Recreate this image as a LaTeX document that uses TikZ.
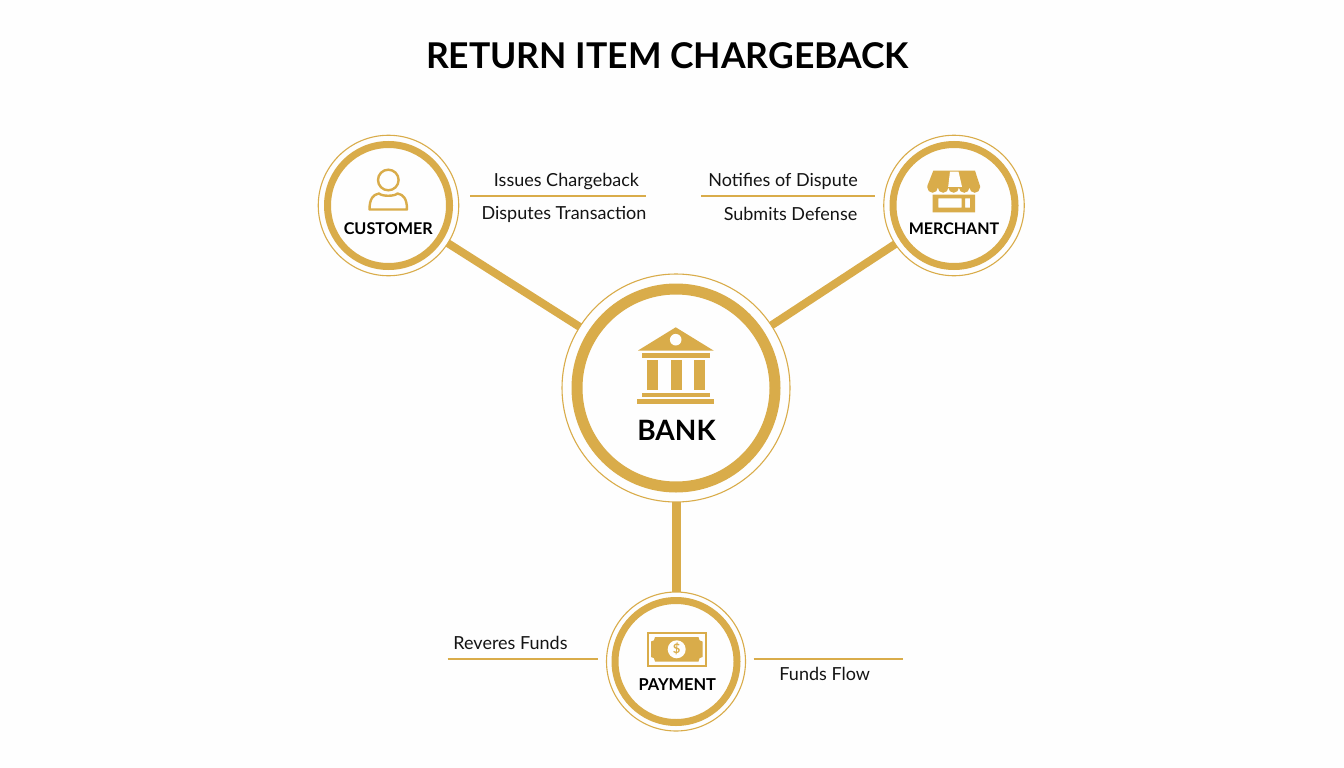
\documentclass[tikz,border=0pt]{standalone}
\usepackage{fontspec}
\setmainfont{Lato}
\definecolor{gold}{HTML}{D9AC4A}
\definecolor{ink}{HTML}{141414}
\definecolor{paper}{HTML}{FEFEFE}
\tikzset{
  hub/.style={circle,draw=gold,line width=1.1pt,inner sep=0pt,outer sep=0pt},
  ringline/.style={draw=gold},
  link/.style={draw=gold,line width=8pt},
  rulerline/.style={draw=gold,line width=1.8pt},
  lbl/.style={text=ink,inner sep=0pt,font=\fontsize{18}{20}\selectfont},
  captext/.style={text=black,inner sep=0pt,font=\fontsize{16.2}{20}\selectfont\bfseries},
  icon/.style={fill=gold,draw=none},
}
\begin{document}
\begin{tikzpicture}[x=1pt,y=-1pt]
\useasboundingbox[fill=paper] (0,0) rectangle (1344,768);
\node[inner sep=0pt,text=black,font=\fontsize{35.5}{40}\selectfont\bfseries] (title) at (667.5,56) {RETURN ITEM CHARGEBACK};
% hubs
\node[hub,minimum size=140.5pt] (customer) at (388.5,205.5) {};
\node[hub,minimum size=140.5pt] (merchant) at (954,205.5) {};
\node[hub,minimum size=228pt] (bank) at (676,388) {};
\node[hub,minimum size=139pt] (payment) at (676,661.5) {};
\draw[ringline,line width=7pt] (customer.center) circle[radius=61];
\draw[ringline,line width=7pt] (merchant.center) circle[radius=61];
\draw[ringline,line width=11pt] (bank.center) circle[radius=99];
\draw[ringline,line width=7pt] (payment.center) circle[radius=61];
% connectors
\draw[link] (customer) -- (bank);
\draw[link] (merchant) -- (bank);
\draw[link,line width=9pt] (bank) -- (payment);
% bank icon
\fill[icon] (638,350.5) -- (675.7,327.3) -- (713.5,350.5) -- cycle;
\fill[paper] (675.7,339.7) circle[radius=5.8];
\fill[icon] (641.7,353.3) rectangle (710,357.5);
\fill[icon] (647.3,360) rectangle (658.3,389.5);
\fill[icon] (670.7,360) rectangle (681.7,389.5);
\fill[icon] (694,360) rectangle (705,389.5);
\fill[icon] (641.7,392.7) rectangle (710,396.9);
\fill[icon] (637,399.3) rectangle (714,404);
\node[inner sep=0pt,text=black,font=\fontsize{28}{30}\selectfont\bfseries] (banktext) at (676.5,430) {BANK};
% customer icon
\draw[gold,line width=2.4pt] (388.3,180) circle[radius=10.3];
\draw[gold,line width=2.4pt,line join=round] (369.5,209.5) .. controls (369.5,199) and (373,194.5) .. (379,193.5) .. controls (382,196.5) and (394.5,196.5) .. (397.5,193.5) .. controls (403.5,194.5) and (407,199) .. (407,209.5) -- cycle;
\node[captext] (customertext) at (388.3,228.5) {CUSTOMER};
% merchant icon
\fill[icon] (933.3,170.7) -- (975,170.7) -- (980,186) -- (980,187.5) arc[start angle=0,end angle=180,radius=5.27] arc[start angle=0,end angle=180,radius=5.27] arc[start angle=0,end angle=180,radius=5.27] arc[start angle=0,end angle=180,radius=5.27] arc[start angle=0,end angle=180,radius=5.27] -- (927.3,186) -- cycle;
\fill[paper] (950,171.5) -- (958.5,171.5) -- (962,186.8) -- (948.2,186.8) -- cycle;
\fill[gold,even odd rule] (932.7,194.5) rectangle (975,212.3) (938.3,198.3) rectangle (961.7,207.7) (965,198.3) rectangle (970,207.7);
\node[captext,font=\fontsize{16}{20}\selectfont\bfseries] (merchanttext) at (954,228.5) {MERCHANT};
% payment icon
\draw[gold,line width=2pt] (647.5,633) rectangle (706.2,665.6);
\fill[icon] (655,637) -- (698.5,637) .. controls (698.5,640) and (700,641.5) .. (702.5,641.5) -- (702.5,657) .. controls (700,657) and (698.5,658.5) .. (698.5,661.5) -- (655,661.5) .. controls (655,658.5) and (653.5,657) .. (651,657) -- (651,641.5) .. controls (653.5,641.5) and (655,640) .. (655,637) -- cycle;
\fill[paper] (676.7,649.3) circle[radius=9];
\node[inner sep=0pt,text=gold,font=\fontsize{13}{14}\selectfont\bfseries] (dollar) at (676.7,649.3) {\$};
\node[captext,font=\fontsize{16.4}{20}\selectfont\bfseries] (paymenttext) at (677.3,685) {PAYMENT};
% label rules
\coordinate (r1a) at (470,195.6); \coordinate (r1b) at (646,195.6);
\coordinate (r2a) at (701,195.6); \coordinate (r2b) at (874.5,195.6);
\coordinate (r3a) at (447.5,659); \coordinate (r3b) at (597.5,659);
\coordinate (r4a) at (753.5,659); \coordinate (r4b) at (903,659);
\draw[rulerline] (r1a) -- (r1b);
\draw[rulerline] (r2a) -- (r2b);
\draw[rulerline] (r3a) -- (r3b);
\draw[rulerline] (r4a) -- (r4b);
% labels
\node[lbl] (l1) at (566.5,181.5) {Issues Chargeback};
\node[lbl] (l2) at (564,214.5) {Disputes Transaction};
\node[lbl] (l3) at (783,181.5) {Notifies of Dispute};
\node[lbl] (l4) at (790.5,213.5) {Submits Defense};
\node[lbl] (l5) at (510.5,642.5) {Reveres Funds};
\node[lbl] (l6) at (824.7,674) {Funds Flow};
\end{tikzpicture}
\end{document}
